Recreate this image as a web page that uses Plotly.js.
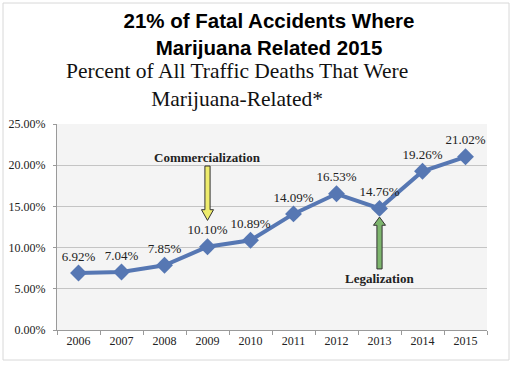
<!DOCTYPE html>
<html><head><meta charset="utf-8">
<script src="https://cdn.plot.ly/plotly-3.0.1.min.js"></script>
<style>html,body{margin:0;padding:0;background:#fff}#chart{width:512px;height:365px}</style>
</head><body><div id="chart"></div>
<script>
const years = [2006, 2007, 2008, 2009, 2010, 2011, 2012, 2013, 2014, 2015];
const percents = [6.92, 7.04, 7.85, 10.10, 10.89, 14.09, 16.53, 14.76, 19.26, 21.02];
const labels = ["6.92%", "7.04%", "7.85%", "10.10%", "10.89%", "14.09%", "16.53%", "14.76%", "19.26%", "21.02%"];
const yTicks = [0, 5, 10, 15, 20, 25];
const yTickText = ["0.00%", "5.00%", "10.00%", "15.00%", "20.00%", "25.00%"];
const events = [
  {year: 2009, label: "Commercialization", dir: "down", color: "#eeec6c"},
  {year: 2013, label: "Legalization", dir: "up", color: "#7db56d"}
];

const serif = "Liberation Serif, Times New Roman, serif";
const lineColor = "#5677b3";

const trace = {
  x: years, y: percents, text: labels,
  type: "scatter", mode: "lines+markers+text",
  textposition: "top center",
  textfont: {family: serif, size: 13, color: "#222"},
  line: {color: lineColor, width: 4},
  marker: {symbol: "diamond", size: 13, color: lineColor},
  cliponaxis: false, hoverinfo: "none"
};

function blockArrow(x, tipY, baseY, endY) {
  const sw = 0.06, hw = 0.14;
  return `M ${x},${tipY} L ${x+hw},${baseY} L ${x+sw},${baseY} L ${x+sw},${endY} L ${x-sw},${endY} L ${x-sw},${baseY} L ${x-hw},${baseY} Z`;
}

const shapes = [];
const annotations = [];
events.forEach(ev => {
  const v = percents[years.indexOf(ev.year)];
  let path, ty;
  if (ev.dir === "down") {
    path = blockArrow(ev.year, v + 3.2, v + 4.5, v + 9.8);
    ty = v + 10.8;
  } else {
    path = blockArrow(ev.year, v - 1.05, v - 2.05, v - 7.35);
    ty = v - 8.45;
  }
  shapes.push({type: "path", xref: "x", yref: "y", path: path,
    fillcolor: ev.color, line: {color: "#333", width: 1}});
  annotations.push({xref: "x", yref: "y", x: ev.year, y: ty, text: "<b>" + ev.label + "</b>",
    showarrow: false, font: {family: serif, size: 13, color: "#222"}, xanchor: "center", yanchor: "middle"});
});

annotations.push({
  xref: "paper", yref: "paper", x: (237 - 57) / 430, y: (330 - 85) / 206,
  xanchor: "center", yanchor: "middle", showarrow: false,
  text: "Percent of All Traffic Deaths That Were<br>Marijuana-Related*",
  font: {family: serif, size: 21.5, color: "#111"}
});

shapes.push({type: "rect", xref: "paper", yref: "paper",
  x0: (3 - 57) / 430, x1: (509 - 57) / 430, y0: (330 - 360) / 206, y1: (330 - 3) / 206,
  line: {color: "#d8d8d8", width: 1}, layer: "below"});

const layout = {
  width: 512, height: 365,
  margin: {l: 57, r: 25, t: 124, b: 35},
  paper_bgcolor: "#ffffff", plot_bgcolor: "#f4f4f4",
  showlegend: false,
  title: {
    text: "<b>21% of Fatal Accidents Where<br>Marijuana Related 2015</b>",
    font: {family: "Liberation Sans, Arial, sans-serif", size: 20.5, color: "#000"},
    x: 269 / 512, xanchor: "center", y: 1 - 28 / 365, yanchor: "middle"
  },
  xaxis: {
    range: [2005.5, 2015.5], tickvals: years, ticktext: years.map(String),
    ticks: "", showgrid: false, zeroline: false,
    showline: true, linecolor: "#9a9a9a", linewidth: 1,
    tickfont: {family: serif, size: 12, color: "#222"},
    minor: {tick0: 2005.5, dtick: 1, ticks: "outside", ticklen: 4, tickcolor: "#9a9a9a", showgrid: false},
    fixedrange: true
  },
  yaxis: {
    range: [0, 25], tickvals: yTicks, ticktext: yTickText,
    ticks: "outside", ticklen: 3, tickcolor: "#9a9a9a",
    ticklabelstandoff: 5,
    showgrid: true, gridcolor: "#c4c4c4", gridwidth: 1,
    zeroline: false, showline: true, linecolor: "#9a9a9a", linewidth: 1,
    tickfont: {family: serif, size: 12, color: "#222"},
    fixedrange: true
  },
  shapes: shapes,
  annotations: annotations
};

Plotly.newPlot("chart", [trace], layout, {displayModeBar: false, staticPlot: true});
</script>
</body></html>
